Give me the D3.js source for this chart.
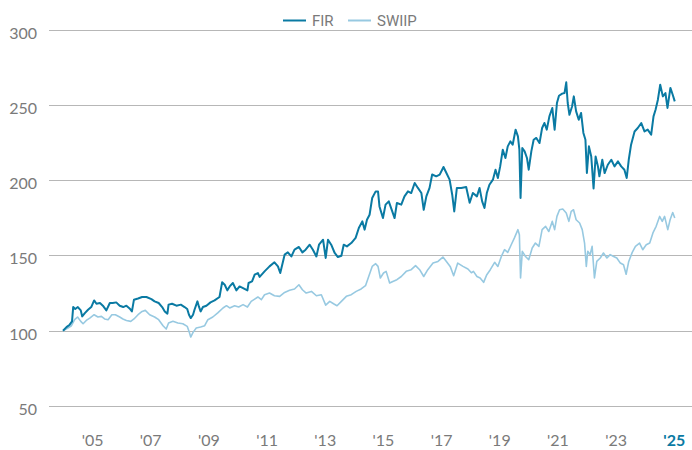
<!DOCTYPE html>
<html>
<head>
<meta charset="utf-8">
<script src="https://cdn.jsdelivr.net/npm/d3@7"></script>
<style>
  body { margin: 0; background: #fff; }
  #chart { width: 692px; height: 450px; }
</style>
</head>
<body>
<div id="chart"></div>
<script>
// Series values (decimal years -> index level)
const firYears = [
  2004.48, 2004.60, 2004.71, 2004.79, 2004.83, 2004.90, 2004.99, 2005.09, 2005.14, 2005.23,
  2005.34, 2005.45, 2005.55, 2005.63, 2005.75, 2005.85, 2005.97, 2006.09, 2006.19, 2006.31,
  2006.43, 2006.55, 2006.66, 2006.77, 2006.85, 2006.92, 2007.06, 2007.20, 2007.35, 2007.52,
  2007.63, 2007.77, 2007.89, 2007.98, 2008.07, 2008.11, 2008.23, 2008.38, 2008.53, 2008.66,
  2008.75, 2008.81, 2008.87, 2008.95, 2009.00, 2009.10, 2009.15, 2009.21, 2009.29, 2009.41,
  2009.55, 2009.69, 2009.86, 2009.95, 2010.04, 2010.13, 2010.21, 2010.32, 2010.44, 2010.55,
  2010.67, 2010.82, 2010.86, 2010.98, 2011.07, 2011.18, 2011.24, 2011.41, 2011.58, 2011.75,
  2011.87, 2011.95, 2012.10, 2012.21, 2012.33, 2012.44, 2012.59, 2012.71, 2012.82, 2012.96,
  2013.07, 2013.19, 2013.28, 2013.42, 2013.51, 2013.59, 2013.70, 2013.82, 2013.93, 2014.05,
  2014.13, 2014.24, 2014.39, 2014.54, 2014.65, 2014.77, 2014.85, 2014.93, 2015.02, 2015.11,
  2015.23, 2015.31, 2015.36, 2015.48, 2015.57, 2015.68, 2015.80, 2015.88, 2015.96, 2016.11,
  2016.22, 2016.34, 2016.45, 2016.57, 2016.68, 2016.80, 2016.88, 2016.97, 2017.08, 2017.17,
  2017.31, 2017.43, 2017.56, 2017.66, 2017.77, 2017.86, 2017.93, 2018.02, 2018.17, 2018.34,
  2018.46, 2018.57, 2018.71, 2018.80, 2018.89, 2018.97, 2019.05, 2019.14, 2019.26, 2019.35,
  2019.43, 2019.51, 2019.60, 2019.69, 2019.77, 2019.86, 2019.94, 2020.04, 2020.12, 2020.17,
  2020.21, 2020.27, 2020.35, 2020.43, 2020.49, 2020.58, 2020.66, 2020.75, 2020.86, 2020.95,
  2021.03, 2021.11, 2021.20, 2021.30, 2021.38, 2021.46, 2021.53, 2021.64, 2021.72, 2021.78,
  2021.83, 2021.89, 2021.98, 2022.04, 2022.12, 2022.21, 2022.29, 2022.37, 2022.44, 2022.49,
  2022.56, 2022.64, 2022.72, 2022.79, 2022.87, 2022.92, 2023.02, 2023.10, 2023.21, 2023.33,
  2023.44, 2023.56, 2023.67, 2023.78, 2023.86, 2023.93, 2024.01, 2024.13, 2024.24, 2024.36,
  2024.47, 2024.58, 2024.70, 2024.78, 2024.85, 2024.93, 2025.01, 2025.10, 2025.19, 2025.26,
  2025.36, 2025.44, 2025.51
];
const firValues = [
  100, 102.4, 104, 106.2, 115.7, 114.4, 115.7, 113.5, 109.5, 111.7,
  113.9, 115.7, 120.1, 117.9, 118.4, 116.6, 113.5, 118.4, 118.4, 118.8,
  116.6, 115.7, 116.6, 114.8, 112.8, 120.6, 121.4, 122.4, 122.4, 121,
  119.5, 118.4, 115.7, 112.8, 111.3, 117.3, 117.9, 116.6, 117.3, 115.7,
  114.4, 110.6, 108.4, 110.6, 113.9, 119.5, 116.1, 112.8, 115.7, 116.6,
  118.8, 120.1, 122.4, 132.1, 130.5, 126.8, 129.4, 131.7, 126.8, 129.4,
  128.3, 126.8, 131.7, 132.7, 137.2, 138.3, 135.7, 139.4, 142.7, 145.4,
  142.7, 138.3, 150.5, 152, 149.3, 153.8, 155.6, 152, 153.8, 157.1,
  153.8, 149.3, 157.1, 160.4, 148.3, 160.4, 157.1, 151.6, 148.9, 149.8,
  157.1, 156, 158.2, 161.6, 168.2, 172.6, 167.1, 173.7, 177, 188.1,
  192.5, 192.5, 182.5, 174.8, 183.7, 185.9, 179.2, 174.8, 184.8, 183.7,
  189.2, 192.5, 191.4, 198.1, 194.8, 191.4, 180.3, 189.2, 194.8, 203.7,
  202.5, 203.6, 208.7, 204.7, 200.3, 190.3, 179.2, 194.8, 194.8, 195.4,
  185, 191.4, 189.2, 194.8, 185.9, 181.5, 191.4, 196.9, 200.3, 206.9,
  201.4, 209.1, 220.2, 214.7, 222.4, 225.7, 223.5, 233.5, 229, 220.2,
  188.1, 221.3, 219.1, 214.7, 206.9, 219.1, 226.8, 228, 224.6, 234.6,
  237.9, 233.5, 242.3, 247.9, 233.5, 251.2, 256, 257.4, 257.8, 264.9,
  251.2, 243.4, 248.9, 255.6, 245.6, 240.1, 244.6, 231.3, 226.8, 204.7,
  222.4, 215.7, 194.5, 215.7, 209.1, 202.5, 213.5, 204.7, 210.2, 213.5,
  209.1, 212.4, 209.1, 206.9, 201.4, 213.5, 223.5, 232.3, 234.6, 237.9,
  232.3, 233.5, 230.2, 242.3, 246.7, 253.4, 263.3, 255.6, 257.8, 247.9,
  261.2, 256.7, 252.3
];

const swiipYears = [
  2004.48, 2004.65, 2004.77, 2004.88, 2004.98, 2005.09, 2005.17, 2005.28, 2005.40, 2005.55,
  2005.68, 2005.80, 2005.91, 2006.03, 2006.16, 2006.28, 2006.43, 2006.54, 2006.66, 2006.81,
  2006.92, 2007.06, 2007.20, 2007.31, 2007.46, 2007.63, 2007.77, 2007.92, 2008.03, 2008.11,
  2008.26, 2008.43, 2008.60, 2008.75, 2008.83, 2008.87, 2008.95, 2009.06, 2009.21, 2009.35,
  2009.46, 2009.63, 2009.80, 2009.98, 2010.10, 2010.21, 2010.38, 2010.52, 2010.67, 2010.82,
  2010.95, 2011.07, 2011.18, 2011.30, 2011.41, 2011.58, 2011.75, 2011.93, 2012.10, 2012.27,
  2012.44, 2012.59, 2012.71, 2012.84, 2013.02, 2013.19, 2013.36, 2013.51, 2013.65, 2013.78,
  2013.90, 2014.05, 2014.22, 2014.39, 2014.56, 2014.73, 2014.88, 2014.99, 2015.11, 2015.23,
  2015.31, 2015.39, 2015.50, 2015.59, 2015.71, 2015.82, 2015.96, 2016.11, 2016.28, 2016.45,
  2016.60, 2016.74, 2016.88, 2017.02, 2017.20, 2017.37, 2017.54, 2017.66, 2017.79, 2017.91,
  2018.05, 2018.23, 2018.40, 2018.52, 2018.59, 2018.71, 2018.82, 2018.94, 2019.05, 2019.17,
  2019.32, 2019.43, 2019.55, 2019.66, 2019.77, 2019.89, 2020.00, 2020.12, 2020.17, 2020.21,
  2020.27, 2020.38, 2020.49, 2020.61, 2020.72, 2020.84, 2020.95, 2021.07, 2021.18, 2021.30,
  2021.38, 2021.46, 2021.55, 2021.66, 2021.78, 2021.87, 2021.95, 2022.03, 2022.12, 2022.24,
  2022.33, 2022.41, 2022.47, 2022.52, 2022.60, 2022.67, 2022.75, 2022.83, 2022.95, 2023.06,
  2023.18, 2023.29, 2023.41, 2023.52, 2023.64, 2023.75, 2023.84, 2023.93, 2024.05, 2024.16,
  2024.30, 2024.41, 2024.53, 2024.65, 2024.76, 2024.87, 2024.99, 2025.08, 2025.16, 2025.27,
  2025.35, 2025.44, 2025.51
];
const swiipValues = [
  100, 101.8, 103.3, 107.3, 109.1, 106.2, 104.6, 106.8, 108.4, 110.6,
  109.1, 109.5, 107.8, 107.3, 110.6, 110.6, 109.1, 107.8, 106.8, 106.2,
  107.8, 110.6, 112.8, 113.5, 110.6, 109.1, 107.3, 103.3, 101.1, 105.1,
  106.2, 105.1, 104.6, 102.9, 98.5, 95.8, 98.9, 101.8, 102.5, 103.3,
  107.3, 109.1, 111.8, 115.1, 116.6, 115.1, 116.6, 115.7, 117.3, 115.7,
  119.5, 121, 122.4, 120.6, 123.9, 125, 123.2, 122.8, 125.4, 126.8,
  127.7, 130.5, 127.2, 125, 126.1, 123.2, 123.9, 117, 119.5, 117.9,
  116.6, 119.5, 122.8, 123.9, 126.1, 127.7, 129.9, 136, 142.7, 144.5,
  142.7, 135, 138.3, 139.4, 131.7, 132.7, 133.9, 136, 139.4, 140.5,
  143.2, 140.5, 136, 140.5, 144.9, 146, 148.9, 146, 142.7, 136.5,
  144.9, 142.7, 141, 138.5, 139.4, 136, 135, 132.1, 137.2, 140.5,
  145.4, 142.7, 149.3, 153.8, 152, 157.1, 161.6, 167.1, 163.7, 135,
  152.7, 149.3, 147.1, 154.9, 158.2, 156, 167.1, 169.3, 165.9, 172.6,
  167.1, 175.9, 180.3, 180.8, 178.2, 172.6, 179.2, 180.3, 173.7, 171.5,
  167.1, 158.2, 142.7, 152.7, 150.5, 156, 135, 146, 148.3, 151.6,
  148.3, 150.5, 149.3, 148.3, 144.9, 143.8, 137.5, 146, 152, 156,
  158.2, 153.8, 157.1, 158.2, 164.9, 169.3, 175.9, 172.6, 175.9, 167.1,
  173.7, 178.5, 174.8
];

const seriesNames = ["FIR", "SWIIP"];
const seriesColors = ["#0a7aa3", "#97c9e1"];
const yTicks = [50, 100, 150, 200, 250, 300];
const xTickYears = [2005, 2007, 2009, 2011, 2013, 2015, 2017, 2019, 2021, 2023, 2025];

const width = 692;
const height = 450;

// decimal year -> Date
const toDate = (t) => {
  const y = Math.floor(t);
  const start = new Date(y, 0, 1);
  const end = new Date(y + 1, 0, 1);
  return new Date(+start + (t - y) * (end - start));
};

const series = [
  { name: seriesNames[0], color: seriesColors[0], width: 2,
    points: firYears.map((t, i) => ({ date: toDate(t), value: firValues[i] })) },
  { name: seriesNames[1], color: seriesColors[1], width: 1.6,
    points: swiipYears.map((t, i) => ({ date: toDate(t), value: swiipValues[i] })) },
];

const svg = d3
  .select("#chart")
  .append("svg")
  .attr("width", width)
  .attr("height", height);

const x = d3
  .scaleTime()
  .domain([new Date(2004, 0, 1), new Date(2026, 0, 1)])
  .range([49, 689]);

const y = d3.scaleLinear().domain([50, 300]).range([406, 29.5]);

// Gridlines
svg
  .append("g")
  .selectAll("line")
  .data(yTicks)
  .enter()
  .append("line")
  .attr("x1", 49)
  .attr("x2", width)
  .attr("y1", (d) => Math.round(y(d)) + 0.5)
  .attr("y2", (d) => Math.round(y(d)) + 0.5)
  .attr("stroke", "#b7b7b7")
  .attr("stroke-width", 1);

// Y labels
svg
  .append("g")
  .selectAll("text")
  .data(yTicks)
  .enter()
  .append("text")
  .attr("x", 37)
  .attr("y", (d) => y(d) + 9)
  .attr("text-anchor", "end")
  .attr("font-family", "Lato, 'Open Sans', sans-serif")
  .attr("font-size", 16)
  .attr("fill", "#7a7a7a")
  .text((d) => d);

// X labels, centred on the middle of each year
const last = xTickYears[xTickYears.length - 1];
svg
  .append("g")
  .selectAll("text")
  .data(xTickYears)
  .enter()
  .append("text")
  .attr("x", (d) => x(new Date(d, 6, 1)))
  .attr("y", 446)
  .attr("text-anchor", "middle")
  .attr("font-family", "Lato, 'Open Sans', sans-serif")
  .attr("font-size", 16)
  .attr("font-weight", (d) => (d === last ? 700 : 400))
  .attr("fill", (d) => (d === last ? seriesColors[0] : "#7a7a7a"))
  .text((d) => "'" + String(d).slice(2));

// Lines (light series drawn first)
const line = d3
  .line()
  .x((d) => x(d.date))
  .y((d) => y(d.value));

svg
  .append("g")
  .selectAll("path")
  .data(series.slice().reverse())
  .enter()
  .append("path")
  .attr("fill", "none")
  .attr("stroke", (d) => d.color)
  .attr("stroke-width", (d) => d.width)
  .attr("stroke-linejoin", "round")
  .attr("d", (d) => line(d.points));

// Legend
const legendX = [283, 348];
const legend = svg
  .append("g")
  .selectAll("g")
  .data(series)
  .enter()
  .append("g")
  .attr("transform", (d, i) => `translate(${legendX[i]},20.5)`);

legend
  .append("line")
  .attr("x1", 0)
  .attr("x2", 23)
  .attr("stroke", (d) => d.color)
  .attr("stroke-width", 2);

legend
  .append("text")
  .attr("x", 29)
  .attr("y", 5.5)
  .attr("font-family", "Roboto, Arial, sans-serif")
  .attr("font-size", 15)
  .attr("fill", "#7a7a7a")
  .text((d) => d.name);
</script>
</body>
</html>
